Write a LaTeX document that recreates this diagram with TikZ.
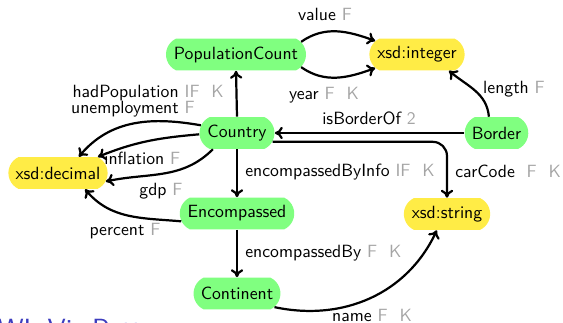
\documentclass[tikz,border=0pt]{standalone}
\usetikzlibrary{shapes.misc,arrows.meta}

\definecolor{cls}{RGB}{128,255,128}
\definecolor{dtype}{RGB}{255,236,70}
\definecolor{flag}{RGB}{165,165,165}
\definecolor{titleblue}{RGB}{60,60,190}

\tikzset{
  term/.style={rounded rectangle, rounded rectangle arc length=130,
    minimum height=18pt, inner xsep=3.4pt, inner ysep=2pt, font=\sffamily},
  class/.style={term, fill=cls},
  datatype/.style={term, fill=dtype},
  prop/.style={line width=1.25pt, -{To[length=4.5pt,width=7pt]}},
  lbl/.style={font=\sffamily, inner sep=0pt},
}
\newcommand\flg[1]{\textcolor{flag}{#1}}

\begin{document}
\begin{tikzpicture}[x=0.565pt,y=0.565pt]
\clip (0,0) rectangle (563,323);

% classes and datatypes
\node[class]    (pc)      at (236,268.5) {PopulationCount};
\node[datatype] (int)     at (417,268.5) {xsd:integer};
\node[class]    (country) at (237,190)   {Country};
\node[class]    (border)  at (496.5,190) {Border};
\node[datatype] (dec)     at (58,150)    {xsd:decimal};
\node[class]    (enc)     at (237,109.5) {Encompassed};
\node[datatype] (str)     at (447,109)   {xsd:string};
\node[class]    (cont)    at (237,29.5)  {Continent};

% properties
\draw[prop] (pc.11) to[out=35,in=160] (int.162);
\draw[prop] (pc.-11) to[out=-35,in=-160] (int.-162);
\draw[prop] (country.north) -- (pc.south);
\draw[prop] (country.168) to[out=170,in=50] (dec.38);
\draw[prop] (country.182) to[out=185,in=22] (dec.22);
\draw[prop] (country.214) to[out=225,in=12] (dec.-10);
\draw[prop] (enc.188) to[out=175,in=-50] (dec.-31);
\draw[prop] (country.south) -- (enc.north);
\draw[prop] (enc.south) -- (cont.north);
\draw[prop] (border.west) -- (country.east);
\draw[prop, rounded corners=8pt] (country.-14) -| (str.north);
\draw[prop] (border.115) to[out=95,in=-40] (int.-27);
\draw[prop] (cont.-20) to[out=-12,in=-115] (str.-122);

% property labels
\node[lbl] (l-value)  at (325,309) {value \flg{F}};
\node[lbl] (l-year)   at (324,228) {year \flg{F\ \ K}};
\node[lbl, anchor=east] (l-hadpop) at (224,230) {hadPopulation \flg{IF\ \ K}};
\node[lbl, anchor=east] (l-unemp)  at (195,214) {unemployment \flg{F}};
\node[lbl, anchor=west] (l-infl)   at (104,165) {inflation \flg{F}};
\node[lbl] (l-gdp)     at (161,132) {gdp \flg{F}};
\node[lbl] (l-percent) at (125,92)  {percent \flg{F}};
\node[lbl, anchor=west] (l-encinfo) at (245,151) {encompassedByInfo \flg{IF\ \ K}};
\node[lbl, anchor=west] (l-encby)   at (245,70)  {encompassedBy \flg{F\ \ K}};
\node[lbl] (l-border)  at (369,205) {isBorderOf \flg{2}};
\node[lbl, anchor=west] (l-car)     at (455,152) {carCode\ \ \flg{F\ \ K}};
\node[lbl] (l-length)  at (514,234) {length \flg{F}};
\node[lbl] (l-name)    at (372,8)   {name \flg{F\ \ K}};

% frame title, cut by the lower edge
\node[font=\sffamily\fontsize{16.5}{20}\selectfont, text=titleblue,
      anchor=base west, inner sep=0pt]
  (title) at (-22,-17) {OWL Vis Pattern};
\end{tikzpicture}
\end{document}
